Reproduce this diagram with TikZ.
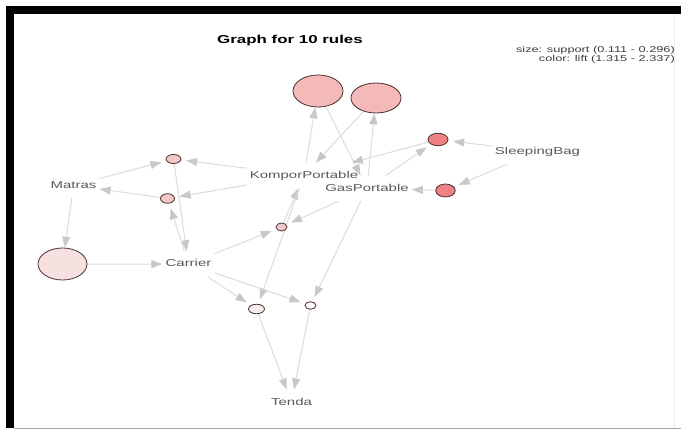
\documentclass[tikz,border=0pt]{standalone}
\usepackage{fontspec}
\usetikzlibrary{shapes.geometric,arrows.meta}
\newfontfamily\lblfont[FakeStretch=1.5]{Liberation Sans}
\newfontfamily\ttlfont[FakeStretch=1.47]{Liberation Sans}
\definecolor{edgegray}{HTML}{DCDCDC}
\definecolor{arrowgray}{HTML}{C8C8C8}
\definecolor{labelgray}{HTML}{5A5A5A}
\definecolor{legendgray}{HTML}{3C3C3C}
\definecolor{ruleborder}{HTML}{4A3030}
\definecolor{bigpink}{HTML}{F4B9B9}
\definecolor{palepink}{HTML}{F7E0E0}
\definecolor{midpink}{HTML}{F2C8C8}
\definecolor{faintpink}{HTML}{F8EDED}
\definecolor{nearwhite}{HTML}{FFF9F9}
\definecolor{salmon}{HTML}{EE8282}
\pgfdeclarelayer{bg}
\pgfsetlayers{bg,main}
\begin{document}
\begin{tikzpicture}[x=1pt,y=-1pt,
  conn/.style={draw=edgegray,line width=1pt,-{Triangle[length=11pt,width=8pt,color=arrowgray]}},
  tosmall/.style={conn,shorten >=5pt},
  item/.style={rectangle,inner xsep=3pt,inner ysep=8pt,text=labelgray,
    font=\lblfont\fontsize{10}{12}\selectfont,text height=7.3pt,text depth=2pt},
  rulenode/.style={ellipse,draw=ruleborder,line width=0.8pt,inner sep=0pt},
]
\useasboundingbox (0,0) rectangle (681,430);
% title and legend
\node[font=\ttlfont\bfseries\fontsize{11.5}{13}\selectfont,anchor=base] (title) at (290,43.5) {Graph for 10 rules};
\node[font=\lblfont\fontsize{8.5}{10}\selectfont,text=legendgray,anchor=base east,inner sep=0pt] (leg1) at (675,52.5) {size: support (0.111 - 0.296)};
\node[font=\lblfont\fontsize{8.5}{10}\selectfont,text=legendgray,anchor=base east,inner sep=0pt] (leg2) at (675,61.5) {color: lift (1.315 - 2.337)};
% items
\node[item] (ma) at (73.5,185.4) {Matras};
\node[item] (kp) at (304,175.4) {KomporPortable};
\node[item] (gp) at (367,188.4) {GasPortable};
\node[item] (sb) at (537.5,151.4) {SleepingBag};
\node[item] (ca) at (188.5,264.1) {Carrier};
\node[item] (te) at (291.5,402.4) {Tenda};
% rules
\node[rulenode,fill=bigpink,minimum width=50pt,minimum height=32pt] (rA) at (318,91) {};
\node[rulenode,fill=bigpink,minimum width=50pt,minimum height=30pt] (rB) at (376,98) {};
\node[rulenode,fill=palepink,minimum width=49pt,minimum height=32pt] (rM) at (62.5,264) {};
\node[rulenode,fill=midpink,minimum width=15pt,minimum height=9pt] (r3) at (173.5,159) {};
\node[rulenode,fill=midpink,minimum width=14pt,minimum height=9.5pt] (r4) at (167.5,198.5) {};
\node[rulenode,fill=midpink,minimum width=11pt,minimum height=8pt] (r6) at (281.5,227) {};
\node[rulenode,fill=faintpink,minimum width=16pt,minimum height=9.5pt] (r7) at (256.5,309) {};
\node[rulenode,fill=nearwhite,minimum width=11pt,minimum height=7.5pt] (r8) at (310.5,305.5) {};
\node[rulenode,fill=salmon,minimum width=20pt,minimum height=12.5pt] (r9) at (438,139.5) {};
\node[rulenode,fill=salmon,minimum width=19.5pt,minimum height=13pt] (r10) at (445.5,190.5) {};
\begin{pgfonlayer}{bg}
\fill[white] (0,0) rectangle (681,430);
\fill[black] (6,6) rectangle (681,14);
\fill[black] (6,6) rectangle (14,428);
\draw[black!35,line width=1.5pt] (14,428.5) -- (681,428.5);
\draw[black!8,line width=1pt] (674,14) -- (674,428);
% connectors
\draw[conn] (kp) -- (rA);
\draw[conn] (rA) -- (gp);
\draw[conn] (gp) -- (rB);
\draw[conn] (rB) -- (kp);
\draw[tosmall] (kp) -- (r3);
\draw[tosmall] (ma) -- (r3);
\draw[conn] (r3) -- (ca);
\draw[tosmall] (kp) -- (r4);
\draw[tosmall] (ca) -- (r4);
\draw[conn] (r4) -- (ma);
\draw[conn] (ma) -- (rM);
\draw[conn] (rM) -- (ca);
\draw[tosmall] (ca) -- (r6);
\draw[tosmall] (gp) -- (r6);
\draw[conn] (r6) -- (kp);
\draw[tosmall] (ca) -- (r7);
\draw[tosmall] (kp) -- (r7);
\draw[conn] (r7) -- (te);
\draw[tosmall] (ca) -- (r8);
\draw[tosmall] (gp) -- (r8);
\draw[conn] (r8) -- (te);
\draw[tosmall] (sb) -- (r9);
\draw[tosmall] (gp) -- (r9);
\draw[conn] (r9) -- (kp);
\draw[tosmall] (sb) -- (r10);
\draw[conn] (r10) -- (gp);
\end{pgfonlayer}
\end{tikzpicture}
\end{document}
